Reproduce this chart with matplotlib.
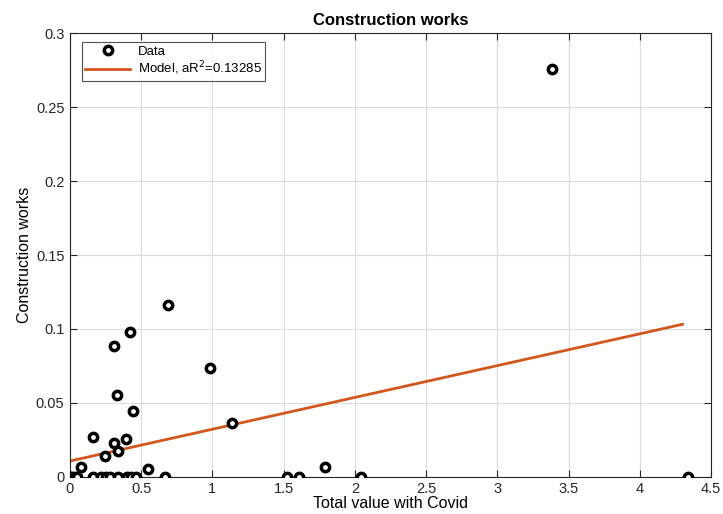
import matplotlib
matplotlib.use("Agg")
import matplotlib.pyplot as plt
import numpy as np

plt.rcParams['font.family'] = ['Liberation Sans', 'DejaVu Sans']

# Observations: total value with Covid vs. construction works share
total_value = [0.00, 0.01, 0.03, 0.05, 0.165, 0.22, 0.25, 0.28, 0.34, 0.40, 0.43, 0.46, 0.67,
               1.52, 1.61, 2.04, 4.34,
               0.075, 0.55, 1.79, 0.246, 0.34, 0.31, 0.393, 0.164, 0.444, 0.33,
               1.135, 0.98, 0.31, 0.42, 0.69, 3.385]
construction = [0, 0, 0, 0, 0, 0, 0, 0, 0, 0, 0, 0, 0,
                0, 0, 0, 0,
                0.0064, 0.0052, 0.0064, 0.014, 0.0174, 0.0226, 0.0253, 0.027, 0.0447, 0.0553,
                0.036, 0.0733, 0.0886, 0.098, 0.116, 0.2757]

# Linear model
model_intercept = 0.0106
model_slope = 0.02152
model_x_range = [0.0, 4.30]
model_label = r'Model, aR$^2$=0.13285'

fig = plt.figure(figsize=(7.23, 5.14), dpi=100)
ax = fig.add_axes([0.0968, 0.0726, 0.8866, 0.8624])

ax.plot(total_value, construction, linestyle='none', marker='o', markersize=6,
        markerfacecolor='white', markeredgecolor='black', markeredgewidth=2.5,
        label='Data', zorder=3)

mx = np.array(model_x_range)
ax.plot(mx, model_intercept + model_slope * mx, color='#D2571E', linewidth=2.0,
        label=model_label, zorder=2)

ax.set_xlim(0, 4.5)
ax.set_ylim(0, 0.3)
ax.set_xticks(np.arange(0, 4.51, 0.5))
ax.set_xticklabels(['0', '0.5', '1', '1.5', '2', '2.5', '3', '3.5', '4', '4.5'])
ax.set_yticks(np.arange(0, 0.301, 0.05))
ax.set_yticklabels(['0', '0.05', '0.1', '0.15', '0.2', '0.25', '0.3'])

ax.grid(True, color='#dcdcdc', linewidth=0.8)
ax.set_axisbelow(True)
ax.tick_params(direction='in', length=5, width=0.8, colors='#262626',
               labelsize=10.5, top=True, right=True, pad=4)
for s in ax.spines.values():
    s.set_color('#262626')
    s.set_linewidth(0.8)

ax.set_title('Construction works', fontsize=12, fontweight='bold', pad=6)
ax.set_xlabel('Total value with Covid', fontsize=11.5, labelpad=0)
ax.set_ylabel('Construction works', fontsize=11.5, labelpad=3)

leg = ax.legend(loc='upper left', bbox_to_anchor=(0.0187, 0.98), borderaxespad=0,
                fontsize=9.5, frameon=True, fancybox=False, edgecolor='#262626',
                handlelength=3.4, borderpad=0.25, labelspacing=0.15, handletextpad=0.6)
leg.get_frame().set_linewidth(0.8)

fig.savefig('out.png', dpi=100, facecolor='white')
